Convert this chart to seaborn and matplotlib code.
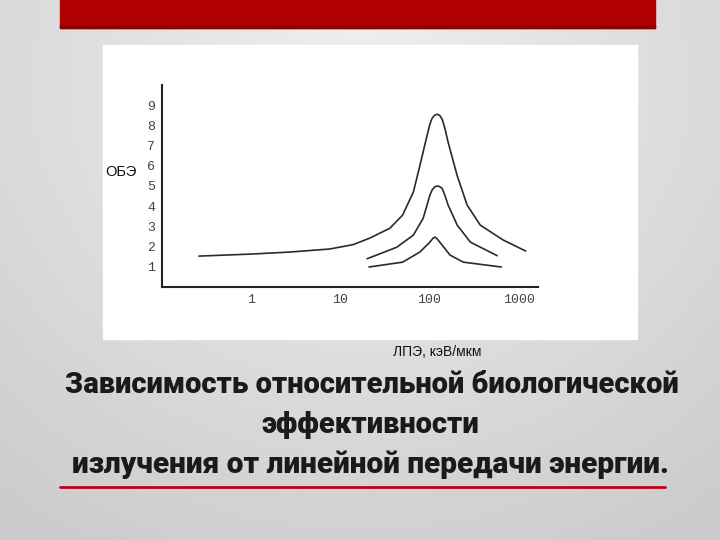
import numpy as np
import pandas as pd
import matplotlib
matplotlib.use('Agg')
import matplotlib.pyplot as plt
import seaborn as sns

# LET (keV/um) vs RBE, three curves
let_top = [0.26, 1, 2.7, 7.6, 14, 21.4, 36, 50, 66, 78, 94, 101, 107, 114, 122, 130, 139, 150, 162, 205, 265, 372, 675, 1140, 1200]
rbe_top = [1.53, 1.63, 1.73, 1.88, 2.1, 2.42, 2.91, 3.56, 4.7, 6.0, 7.5, 8.05, 8.35, 8.5, 8.55, 8.5, 8.3, 7.8, 7.16, 5.5, 4.05, 3.06, 2.32, 1.83, 1.78]

let_mid = [20, 43, 66, 85, 96, 101, 107, 114, 122, 130, 139, 150, 162, 205, 288, 575]
rbe_mid = [1.4, 1.97, 2.57, 3.4, 4.2, 4.54, 4.8, 4.95, 5.0, 4.97, 4.88, 4.5, 4.05, 3.06, 2.22, 1.55]

let_low = [21, 50, 78, 101, 110, 115, 121, 139, 170, 240, 640]
rbe_low = [0.99, 1.23, 1.73, 2.22, 2.42, 2.47, 2.4, 2.07, 1.58, 1.23, 0.99]

x_ticks = [1, 10, 100, 1000]
y_ticks = [1, 2, 3, 4, 5, 6, 7, 8, 9]

df = pd.concat([
    pd.DataFrame({'let': let_top, 'rbe': rbe_top, 'curve': 'a'}),
    pd.DataFrame({'let': let_mid, 'rbe': rbe_mid, 'curve': 'b'}),
    pd.DataFrame({'let': let_low, 'rbe': rbe_low, 'curve': 'c'}),
])

sns.set_theme(style='white')
plt.rcParams['font.family'] = ['Liberation Sans', 'DejaVu Sans']

fig = plt.figure(figsize=(7.2, 5.4), dpi=100)

# slide background: soft grey gradient
bg = fig.add_axes([0, 0, 1, 1], zorder=-10)
yy, xx = np.mgrid[0:1:200j, 0:1:200j]
r = np.sqrt(((xx - 0.5) * 1.1) ** 2 + ((yy - 0.15) * 0.9) ** 2)
bg.imshow(0.94 - 0.16 * r, cmap='gray', vmin=0, vmax=1, extent=[0, 1, 0, 1], aspect='auto')
bg.axis('off')
bg.set_xlim(0, 1)
bg.set_ylim(0, 1)
# red bar at the top and red rule under the title
bg.add_patch(plt.Rectangle((60 / 720, 1 - 28 / 540), 595 / 720, 28 / 540, color='#b00000'))
bg.add_patch(plt.Rectangle((60 / 720, 1 - 28 / 540), 595 / 720, 3 / 540, color='#8c0000'))
bg.plot([60 / 720, 665 / 720], [1 - 487 / 540] * 2, color='#c0001a', lw=2)
# white picture frame
bg.add_patch(plt.Rectangle((103 / 720, 1 - 339 / 540), 534 / 720, 294 / 540, color='white'))

ax = fig.add_axes([162 / 720, 1 - 287 / 540, 376 / 720, 202 / 540])
ax.set_facecolor('white')
sns.lineplot(data=df, x='let', y='rbe', hue='curve', units='curve', estimator=None,
             palette=['#2a2a2a'] * 3, linewidth=1.2, legend=False, sort=False, ax=ax)
ax.set_xscale('log')
ax.set_xlim(0.1, 1650)
ax.set_ylim(0, 10)
ax.set_xticks(x_ticks)
ax.set_xticklabels([str(t) for t in x_ticks])
ax.set_yticks(y_ticks)
ax.set_yticklabels([str(t) for t in y_ticks])
ax.minorticks_off()
ax.tick_params(direction='in', length=7, width=1, color='#555555', labelcolor='#444444', pad=5)
for lab in ax.get_xticklabels() + ax.get_yticklabels():
    lab.set_family('Liberation Mono')
    lab.set_fontsize(9.5)
ax.set_xlabel('')
ax.set_ylabel('')
sns.despine(ax=ax)
for s in ['left', 'bottom']:
    ax.spines[s].set_color('#222222')
    ax.spines[s].set_linewidth(1.5)

fig.text(121 / 720, 1 - 172 / 540, 'ОБЭ', fontsize=10.5, ha='center', va='center', color='#111111')
fig.text(437 / 720, 1 - 352 / 540, 'ЛПЭ, кэВ/мкм', fontsize=10, ha='center', va='center',
         color='#111111')

title_kw = dict(ha='center', va='center', fontsize=21, fontweight='black', color='#1a1a1a',
                family=['Roboto', 'DejaVu Sans'])
fig.text(372 / 720, 1 - 385 / 540, 'Зависимость относительной биологической', **title_kw)
fig.text(370 / 720, 1 - 425 / 540, 'эффективности', **title_kw)
fig.text(370 / 720, 1 - 465 / 540, 'излучения от линейной передачи энергии.', fontsize=21.5,
         **{k: v for k, v in title_kw.items() if k != 'fontsize'})

fig.savefig('out.png', dpi=100)
